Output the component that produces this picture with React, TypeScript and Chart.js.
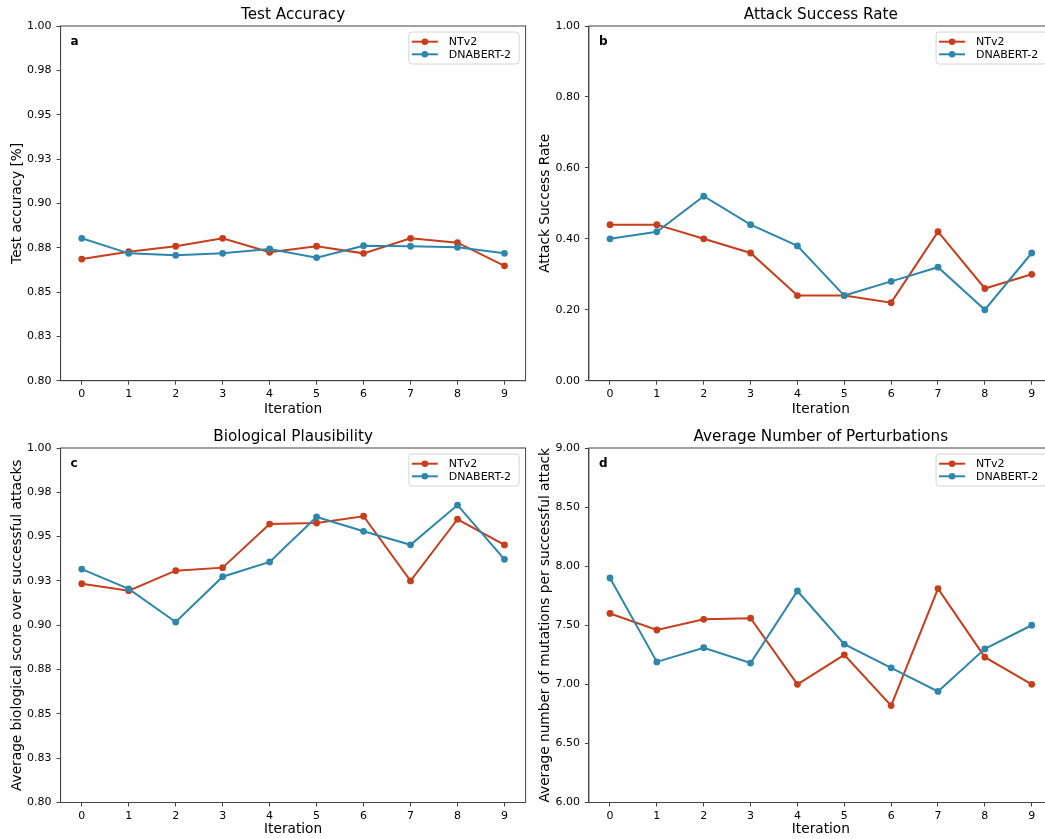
import React, { useEffect, useRef } from 'react';
import { Chart, registerables } from 'chart.js';
Chart.register(...registerables);

const FONT = "'DejaVu Sans', sans-serif";
const RED = '#C73E1D';
const BLUE = '#2E86AB';

const iterations = [0, 1, 2, 3, 4, 5, 6, 7, 8, 9];
const seriesNames = ['NTv2', 'DNABERT-2'];

const accNTv2 = [0.8686, 0.8727, 0.8758, 0.8803, 0.8724, 0.8758, 0.8718, 0.8803, 0.8778, 0.8648];
const accDNABERT = [0.8803, 0.8718, 0.8707, 0.8718, 0.8743, 0.8694, 0.8761, 0.8758, 0.8752, 0.8718];

const asrNTv2 = [0.44, 0.44, 0.40, 0.36, 0.24, 0.24, 0.22, 0.42, 0.26, 0.30];
const asrDNABERT = [0.40, 0.42, 0.52, 0.44, 0.38, 0.24, 0.28, 0.32, 0.20, 0.36];

const bioNTv2 = [0.9234, 0.9195, 0.9308, 0.9325, 0.9571, 0.9577, 0.9615, 0.925, 0.9598, 0.9453];
const bioDNABERT = [0.9317, 0.9205, 0.9018, 0.9274, 0.9357, 0.9611, 0.953, 0.9454, 0.9678, 0.9372];

const pertNTv2 = [7.6, 7.46, 7.55, 7.56, 7.0, 7.25, 6.82, 7.81, 7.23, 7.0];
const pertDNABERT = [7.9, 7.19, 7.31, 7.18, 7.79, 7.34, 7.14, 6.94, 7.3, 7.5];

const accTicks = [0.8, 0.825, 0.85, 0.875, 0.9, 0.925, 0.95, 0.975, 1.0];
const accTickLabels = ['0.80', '0.83', '0.85', '0.88', '0.90', '0.93', '0.95', '0.98', '1.00'];
const asrTicks = [0, 0.2, 0.4, 0.6, 0.8, 1.0];
const asrTickLabels = ['0.00', '0.20', '0.40', '0.60', '0.80', '1.00'];
const pertTicks = [6, 6.5, 7, 7.5, 8, 8.5, 9];
const pertTickLabels = ['6.00', '6.50', '7.00', '7.50', '8.00', '8.50', '9.00'];

type PanelProps = {
  left: number; top: number; width: number; height: number;
  yWidth: number; xHeight: number; padTop: number; padRight: number;
  yTitlePad: number; xTitlePad: number;
  title: string; letter: string; yTitle: string;
  a: number[]; b: number[];
  ticks: number[]; tickLabels: string[];
};

const panelPlugin = {
  id: 'panelDeco',
  afterDraw(chart: any, _args: any, opts: any) {
    const { ctx, chartArea } = chart;
    const { left, top, right, bottom } = chartArea;
    ctx.save();
    // frame
    ctx.strokeStyle = '#444';
    ctx.lineWidth = 1;
    ctx.strokeRect(left, top, right - left, bottom - top);
    // title
    ctx.fillStyle = '#000';
    ctx.font = `15.2px ${FONT}`;
    ctx.textAlign = 'center';
    ctx.textBaseline = 'alphabetic';
    ctx.fillText(opts.title, (left + right) / 2, top - 7);
    // letter
    ctx.font = `bold 12px ${FONT}`;
    ctx.textAlign = 'left';
    ctx.fillText(opts.letter, left + 10, top + 18.5);
    // legend
    ctx.font = `11px ${FONT}`;
    const names: string[] = opts.names;
    const colors: string[] = opts.colors;
    const maxW = Math.max(...names.map((n) => ctx.measureText(n).width));
    const boxW = 3 + 26 + 11 + maxW + 8;
    const boxR = right - 6.5;
    const boxL = boxR - boxW;
    const boxT = top + 6;
    const boxH = 32;
    ctx.beginPath();
    const r = 3;
    ctx.moveTo(boxL + r, boxT);
    ctx.lineTo(boxR - r, boxT);
    ctx.quadraticCurveTo(boxR, boxT, boxR, boxT + r);
    ctx.lineTo(boxR, boxT + boxH - r);
    ctx.quadraticCurveTo(boxR, boxT + boxH, boxR - r, boxT + boxH);
    ctx.lineTo(boxL + r, boxT + boxH);
    ctx.quadraticCurveTo(boxL, boxT + boxH, boxL, boxT + boxH - r);
    ctx.lineTo(boxL, boxT + r);
    ctx.quadraticCurveTo(boxL, boxT, boxL + r, boxT);
    ctx.closePath();
    ctx.fillStyle = 'rgba(255,255,255,0.8)';
    ctx.fill();
    ctx.strokeStyle = '#d4d4d4';
    ctx.stroke();
    names.forEach((n, i) => {
      const y = boxT + 9.7 + i * 12.6;
      const x0 = boxL + 3;
      ctx.strokeStyle = colors[i];
      ctx.lineWidth = 2;
      ctx.beginPath();
      ctx.moveTo(x0, y);
      ctx.lineTo(x0 + 26, y);
      ctx.stroke();
      ctx.fillStyle = colors[i];
      ctx.beginPath();
      ctx.arc(x0 + 13, y, 3.3, 0, Math.PI * 2);
      ctx.fill();
      ctx.fillStyle = '#000';
      ctx.textAlign = 'left';
      ctx.textBaseline = 'middle';
      ctx.fillText(n, x0 + 37, y + 0.5);
    });
    ctx.restore();
  },
};

function Panel(p: PanelProps) {
  const ref = useRef<HTMLCanvasElement>(null);
  useEffect(() => {
    const canvas = ref.current!;
    const mk = (vals: number[]) => iterations.map((x, i) => ({ x, y: vals[i] }));
    const chart = new Chart(canvas, {
      type: 'line',
      data: {
        datasets: [
          {
            label: seriesNames[0], data: mk(p.a), borderColor: RED, backgroundColor: RED,
            borderWidth: 2, pointRadius: 3.4, pointBorderWidth: 0, pointBackgroundColor: RED,
            tension: 0, order: 1, clip: false as any,
          },
          {
            label: seriesNames[1], data: mk(p.b), borderColor: BLUE, backgroundColor: BLUE,
            borderWidth: 2, pointRadius: 3.4, pointBorderWidth: 0, pointBackgroundColor: BLUE,
            tension: 0, order: 0, clip: false as any,
          },
        ],
      },
      options: {
        responsive: false,
        animation: false,
        devicePixelRatio: 1,
        layout: { padding: { top: p.padTop, right: p.padRight, left: 0, bottom: 0 } },
        plugins: {
          legend: { display: false },
          tooltip: { enabled: false },
          panelDeco: {
            title: p.title, letter: p.letter, names: seriesNames, colors: [RED, BLUE],
          },
        } as any,
        scales: {
          x: {
            type: 'linear',
            min: -0.45,
            max: 9.45,
            afterBuildTicks: (s: any) => { s.ticks = iterations.map((v) => ({ value: v })); },
            afterFit: (s: any) => { s.height = p.xHeight; },
            ticks: {
              color: '#000', font: { family: FONT, size: 11 }, padding: 3,
              callback: (v: any) => String(v),
            },
            grid: { display: true, drawOnChartArea: false, drawTicks: true, tickLength: 4, tickColor: '#444' },
            border: { display: true, color: '#444', width: 1 },
            title: {
              display: true, text: 'Iteration', color: '#000',
              font: { family: FONT, size: 13.7 }, padding: { top: 0, bottom: p.xTitlePad },
            },
          },
          y: {
            type: 'linear',
            min: p.ticks[0],
            max: p.ticks[p.ticks.length - 1],
            afterBuildTicks: (s: any) => { s.ticks = p.ticks.map((v) => ({ value: v })); },
            afterFit: (s: any) => { s.width = p.yWidth; },
            ticks: {
              color: '#000', font: { family: FONT, size: 11 }, padding: 5,
              callback: (_v: any, i: number) => p.tickLabels[i],
            },
            grid: { display: true, drawOnChartArea: false, drawTicks: true, tickLength: 4, tickColor: '#444' },
            border: { display: true, color: '#444', width: 1 },
            title: {
              display: true, text: p.yTitle, color: '#000',
              font: { family: FONT, size: 13.7 }, padding: { top: p.yTitlePad, bottom: 0 },
            },
          },
        },
      } as any,
      plugins: [panelPlugin],
    });
    return () => chart.destroy();
  }, []);
  return (
    <canvas
      ref={ref}
      width={p.width}
      height={p.height}
      style={{ position: 'absolute', left: p.left, top: p.top, width: p.width, height: p.height }}
    />
  );
}

export default function App() {
  return (
    <div style={{ position: 'absolute', left: 0, top: 0, width: 1045, height: 839, overflow: 'hidden', background: '#fff' }}>
      <Panel left={0} top={0} width={530} height={420} yWidth={60.6} xHeight={39.3} padTop={26} padRight={4.4}
        yTitlePad={9} xTitlePad={2}
        title="Test Accuracy" letter="a" yTitle="Test accuracy [%]"
        a={accNTv2} b={accDNABERT} ticks={accTicks} tickLabels={accTickLabels} />
      <Panel left={530} top={0} width={530} height={420} yWidth={58.9} xHeight={39.3} padTop={26} padRight={7.2}
        yTitlePad={7} xTitlePad={2}
        title="Attack Success Rate" letter="b" yTitle="Attack Success Rate"
        a={asrNTv2} b={asrDNABERT} ticks={asrTicks} tickLabels={asrTickLabels} />
      <Panel left={0} top={420} width={530} height={419} yWidth={60.6} xHeight={36.5} padTop={28} padRight={4.4}
        yTitlePad={9} xTitlePad={1}
        title="Biological Plausibility" letter="c" yTitle="Average biological score over successful attacks"
        a={bioNTv2} b={bioDNABERT} ticks={accTicks} tickLabels={accTickLabels} />
      <Panel left={530} top={420} width={530} height={419} yWidth={58.9} xHeight={36.5} padTop={28} padRight={7.2}
        yTitlePad={7} xTitlePad={1}
        title="Average Number of Perturbations" letter="d" yTitle="Average number of mutations per successful attack"
        a={pertNTv2} b={pertDNABERT} ticks={pertTicks} tickLabels={pertTickLabels} />
    </div>
  );
}
